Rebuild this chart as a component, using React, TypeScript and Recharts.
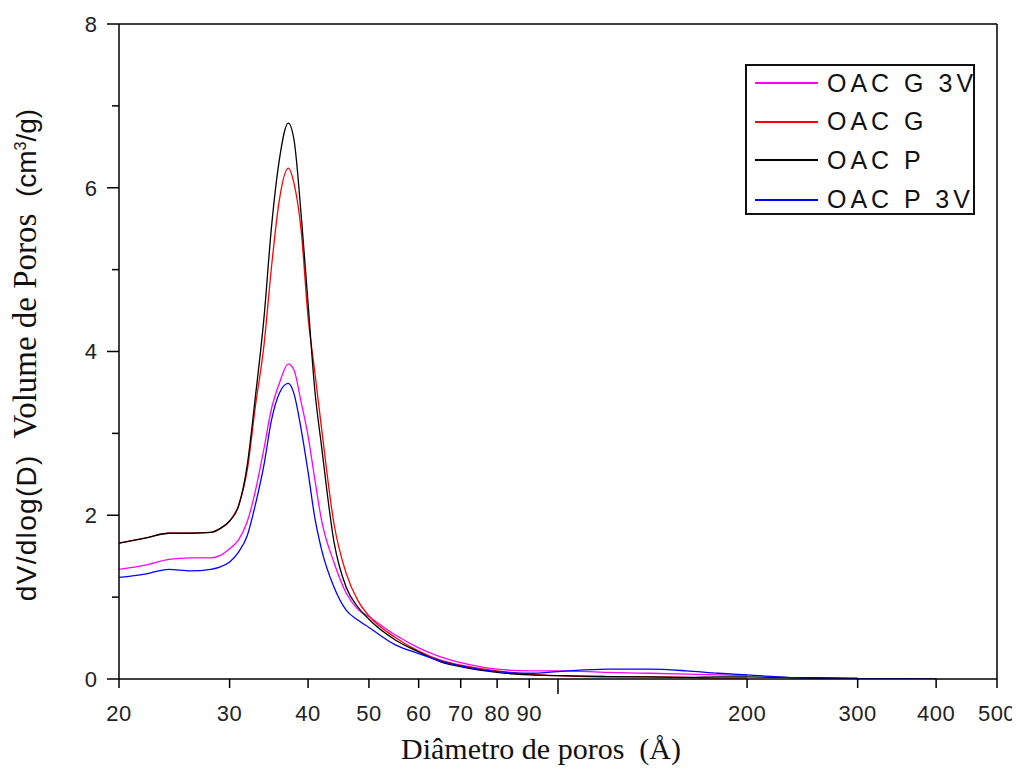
import { LineChart, Line, XAxis, YAxis, ReferenceLine } from 'recharts';

const diameters = [20, 22, 24, 26, 28, 29, 30, 31, 32, 33, 34, 35, 36, 37.2, 38, 39, 40, 41, 42, 44, 46, 48, 50, 55, 60, 65, 70, 80, 90, 100, 120, 140, 160, 180, 200, 250, 300, 350, 400];

const oacG3V = [1.34, 1.39, 1.46, 1.48, 1.48, 1.51, 1.59, 1.7, 1.92, 2.31, 2.8, 3.31, 3.61, 3.85, 3.77, 3.38, 2.97, 2.44, 1.95, 1.42, 1.05, 0.85, 0.76, 0.54, 0.38, 0.27, 0.2, 0.12, 0.1, 0.1, 0.08, 0.07, 0.06, 0.05, 0.04, null, null, null, null];
const oacG = [1.66, 1.72, 1.78, 1.78, 1.79, 1.84, 1.93, 2.12, 2.55, 3.35, 4.05, 5.05, 5.85, 6.24, 6.05, 5.48, 4.42, 3.75, 3.08, 1.89, 1.29, 0.96, 0.77, 0.51, 0.34, 0.23, 0.17, 0.1, 0.06, 0.04, 0.025, 0.025, 0.02, 0.01, 0.01, null, null, null, null];
const oacP = [1.66, 1.72, 1.78, 1.78, 1.79, 1.84, 1.93, 2.11, 2.61, 3.47, 4.38, 5.54, 6.34, 6.79, 6.58, 5.67, 4.59, 3.53, 2.86, 1.67, 1.12, 0.88, 0.73, 0.48, 0.33, 0.21, 0.15, 0.08, 0.05, 0.04, 0.03, 0.025, 0.02, 0.025, 0.025, 0.015, 0.01, null, null];
const oacP3V = [1.24, 1.28, 1.34, 1.32, 1.34, 1.37, 1.43, 1.55, 1.75, 2.14, 2.6, 3.17, 3.49, 3.61, 3.48, 3.05, 2.53, 1.97, 1.59, 1.12, 0.84, 0.72, 0.63, 0.42, 0.31, 0.22, 0.16, 0.09, 0.07, 0.09, 0.12, 0.12, 0.1, 0.07, 0.05, 0.01, 0.005, 0.003, 0.002];

const xTicks = [20, 30, 40, 50, 60, 70, 80, 90, 100, 200, 300, 400, 500];
const yTicks = [0, 1, 2, 3, 4, 5, 6, 7, 8];

const series = [
  { key: 'g3v', name: 'OAC G 3V', color: '#ff00ff' },
  { key: 'g', name: 'OAC G', color: '#ff0000' },
  { key: 'p', name: 'OAC P', color: '#000000' },
  { key: 'p3v', name: 'OAC P 3V', color: '#0000ff' },
];

const data = diameters.map((d, i) => ({
  d,
  g3v: oacG3V[i],
  g: oacG[i],
  p: oacP[i],
  p3v: oacP3V[i],
}));

const sans = '"Liberation Sans", Arial, sans-serif';
const serif = '"Liberation Serif", "Times New Roman", serif';

// legend row centres, measured from the box top
const legendRows = [19, 57.5, 96, 135.5];

function XTick(props: any) {
  const { x, y, payload } = props;
  const v = payload.value;
  const major = v === 100;
  return (
    <g>
      <line x1={x} x2={x} y1={y} y2={y + (major ? 15 : 9)} stroke="#000" strokeWidth={1.5} />
      {!major && (
        <text x={x} y={y + 42} textAnchor="middle" fontFamily={sans} fontSize={22} letterSpacing={0.5} fill="#222">
          {v}
        </text>
      )}
    </g>
  );
}

function YTick(props: any) {
  const { x, y, payload } = props;
  const v = payload.value;
  const major = v % 2 === 0;
  return (
    <g>
      <line x1={x} x2={x - (major ? 12 : 7)} y1={y} y2={y} stroke="#000" strokeWidth={1.5} />
      {major && (
        <text x={x - 22} y={y} dy="0.36em" textAnchor="end" fontFamily={sans} fontSize={22} fill="#222">
          {v}
        </text>
      )}
    </g>
  );
}

function LegendBox() {
  return (
    <div
      style={{
        position: 'absolute',
        left: 745,
        top: 64,
        width: 230,
        height: 151,
        border: '2px solid #111',
        boxSizing: 'border-box',
        background: '#fff',
      }}
    >
      {series.map((s, i) => (
        <div
          key={s.key}
          style={{ position: 'absolute', left: 0, top: legendRows[i] - 2 - 19, height: 38, display: 'flex', alignItems: 'center' }}
        >
          <div style={{ width: 63, height: 0, borderTop: `2px solid ${s.color}`, marginLeft: 8, marginRight: 9 }} />
          <span style={{ fontFamily: sans, fontSize: 25, letterSpacing: 4, color: '#111', whiteSpace: 'pre' }}>{s.name}</span>
        </div>
      ))}
    </div>
  );
}

export default function App() {
  return (
    <div style={{ position: 'relative', width: 1020, height: 774, margin: -8, background: '#fff' }}>
      <LineChart
        width={1020}
        height={774}
        data={data}
        margin={{ top: 24, right: 23, bottom: 35, left: 59 }}
      >
        <XAxis
          dataKey="d"
          type="number"
          scale="log"
          domain={[20, 500]}
          ticks={xTicks}
          interval={0}
          allowDataOverflow
          height={60}
          tickSize={0}
          tickMargin={0}
          tickLine={false}
          tick={<XTick />}
          axisLine={{ stroke: '#000', strokeWidth: 1.5 }}
          label={{
            content: () => (
              <text x={541} y={759} textAnchor="middle" fontFamily={serif} fontSize={30} fill="#111" style={{ whiteSpace: 'pre' }}>
                {'Diâmetro de poros  (Å)'}
              </text>
            ),
          }}
        />
        <YAxis
          type="number"
          domain={[0, 8]}
          ticks={yTicks}
          interval={0}
          allowDataOverflow
          width={60}
          tickSize={0}
          tickMargin={0}
          tickLine={false}
          tick={<YTick />}
          axisLine={{ stroke: '#000', strokeWidth: 1.5 }}
          label={{
            content: () => (
              <text
                x={36}
                y={355}
                textAnchor="middle"
                transform="rotate(-90, 36, 355)"
                fontSize={28}
                fill="#111"
                style={{ whiteSpace: 'pre' }}
              >
                <tspan fontFamily={sans} letterSpacing={1.3}>dV/dlog(D)</tspan>
                <tspan fontFamily={serif} fontSize={33}>{'  Volume de Poros  '}</tspan>
                <tspan fontFamily={sans}>
                  (cm<tspan fontSize={16} dy={-10}>3</tspan>
                  <tspan dy={10}>/g)</tspan>
                </tspan>
              </text>
            ),
          }}
        />
        <ReferenceLine y={8} stroke="#000" strokeWidth={1.5} />
        <ReferenceLine x={500} stroke="#000" strokeWidth={1.5} />
        {series.map(s => (
          <Line
            key={s.key}
            type="monotone"
            dataKey={s.key}
            name={s.name}
            stroke={s.color}
            strokeWidth={1.3}
            dot={false}
            activeDot={false}
            isAnimationActive={false}
          />
        ))}
      </LineChart>
      <LegendBox />
    </div>
  );
}
